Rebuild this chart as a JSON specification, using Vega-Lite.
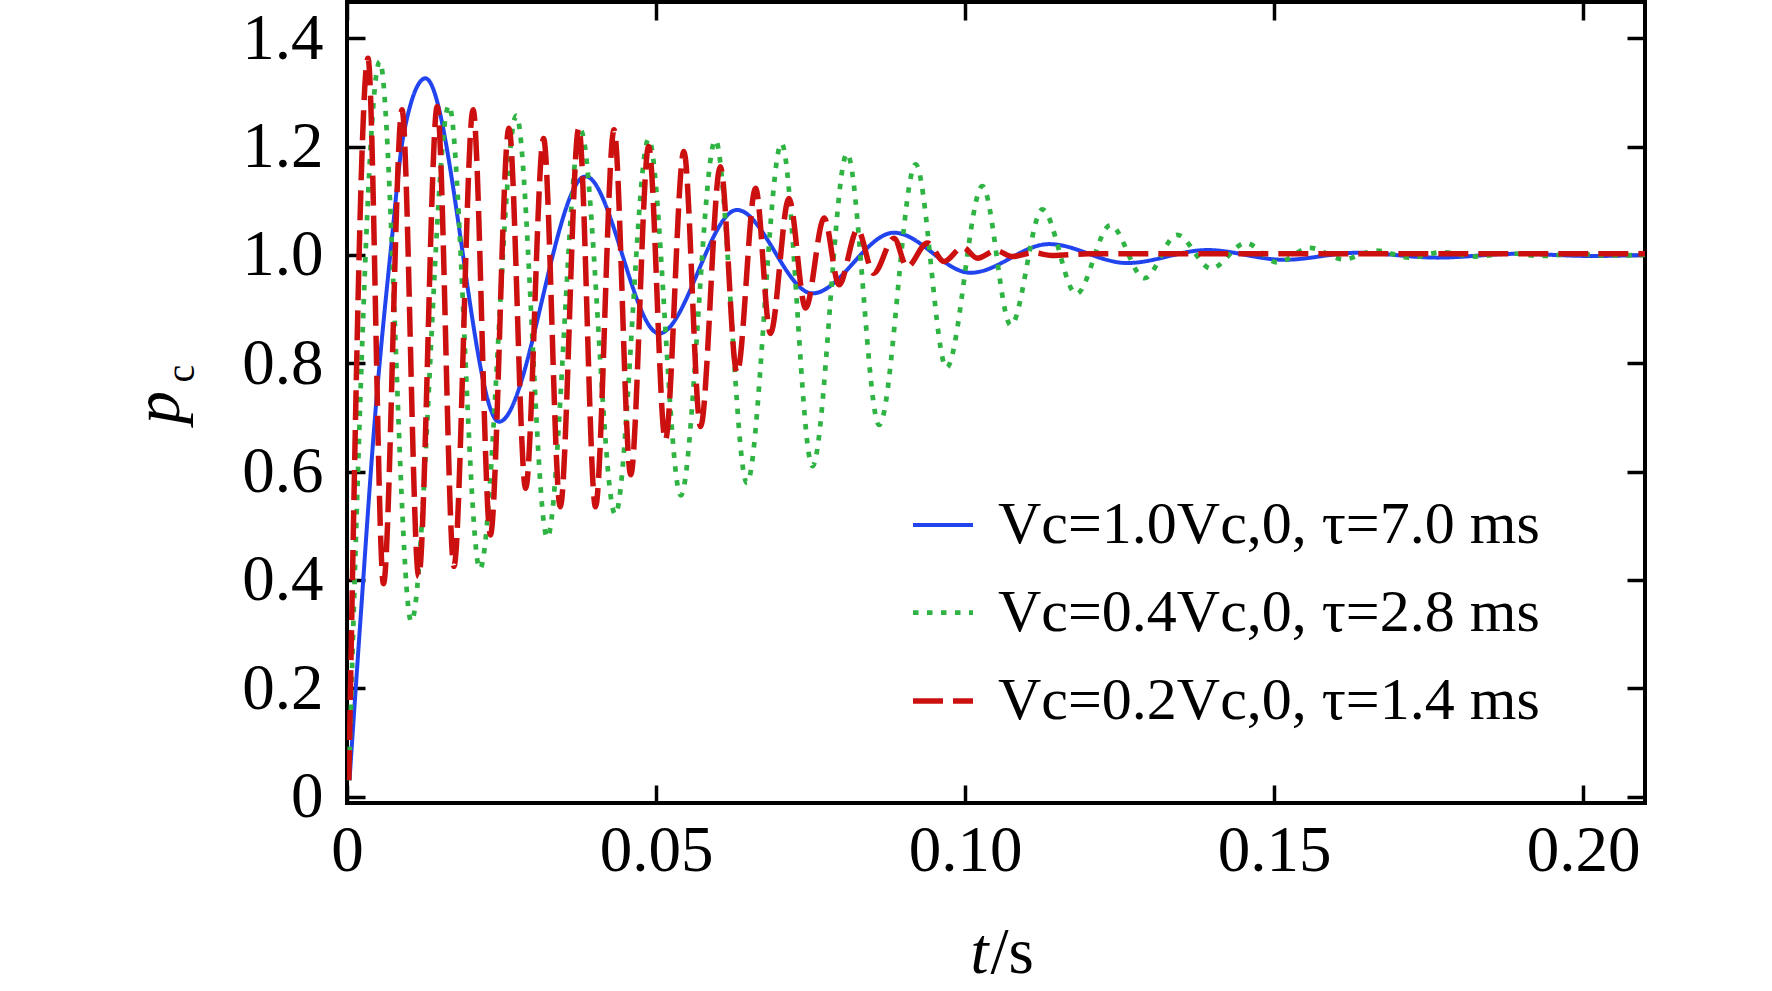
{
  "$schema": "https://vega.github.io/schema/vega-lite/v6.json",
  "width": 1298,
  "height": 801,
  "autosize": {"type": "none"},
  "padding": {"left": 347, "top": 2, "right": 127, "bottom": 188},
  "background": "white",
  "config": {
    "view": {"stroke": "black", "strokeWidth": 4},
    "axis": {
      "grid": false,
      "domain": false,
      "tickSize": -18,
      "tickWidth": 3.5,
      "tickColor": "black",
      "labelFlush": false,
      "labelFont": "Liberation Serif",
      "labelFontSize": 65,
      "labelColor": "black",
      "titleFont": "Liberation Serif",
      "titleColor": "black",
      "titleFontWeight": "normal"
    }
  },
  "data": {
    "values": [
      {"series": "Vc=1.0Vc,0, τ=7.0 ms", "t": 0.0004, "p": 0.03},
      {"series": "Vc=1.0Vc,0, τ=7.0 ms", "t": 0.0022, "p": 0.33},
      {"series": "Vc=1.0Vc,0, τ=7.0 ms", "t": 0.0046, "p": 0.71},
      {"series": "Vc=1.0Vc,0, τ=7.0 ms", "t": 0.007, "p": 1.0},
      {"series": "Vc=1.0Vc,0, τ=7.0 ms", "t": 0.0092, "p": 1.225},
      {"series": "Vc=1.0Vc,0, τ=7.0 ms", "t": 0.0127, "p": 1.326},
      {"series": "Vc=1.0Vc,0, τ=7.0 ms", "t": 0.0246, "p": 0.692},
      {"series": "Vc=1.0Vc,0, τ=7.0 ms", "t": 0.0386, "p": 1.145},
      {"series": "Vc=1.0Vc,0, τ=7.0 ms", "t": 0.0505, "p": 0.855},
      {"series": "Vc=1.0Vc,0, τ=7.0 ms", "t": 0.0631, "p": 1.083},
      {"series": "Vc=1.0Vc,0, τ=7.0 ms", "t": 0.0753, "p": 0.929},
      {"series": "Vc=1.0Vc,0, τ=7.0 ms", "t": 0.0885, "p": 1.041},
      {"series": "Vc=1.0Vc,0, τ=7.0 ms", "t": 0.1009, "p": 0.967},
      {"series": "Vc=1.0Vc,0, τ=7.0 ms", "t": 0.1136, "p": 1.02},
      {"series": "Vc=1.0Vc,0, τ=7.0 ms", "t": 0.1262, "p": 0.985},
      {"series": "Vc=1.0Vc,0, τ=7.0 ms", "t": 0.1392, "p": 1.009},
      {"series": "Vc=1.0Vc,0, τ=7.0 ms", "t": 0.1516, "p": 0.991},
      {"series": "Vc=1.0Vc,0, τ=7.0 ms", "t": 0.1635, "p": 1.004},
      {"series": "Vc=1.0Vc,0, τ=7.0 ms", "t": 0.1764, "p": 0.995},
      {"series": "Vc=1.0Vc,0, τ=7.0 ms", "t": 0.189, "p": 1.002},
      {"series": "Vc=1.0Vc,0, τ=7.0 ms", "t": 0.2015, "p": 0.998},
      {"series": "Vc=1.0Vc,0, τ=7.0 ms", "t": 0.21, "p": 1.0},

      {"series": "Vc=0.4Vc,0, τ=2.8 ms", "t": 0.0003, "p": 0.03},
      {"series": "Vc=0.4Vc,0, τ=2.8 ms", "t": 0.0053, "p": 1.357},
      {"series": "Vc=0.4Vc,0, τ=2.8 ms", "t": 0.0104, "p": 0.323},
      {"series": "Vc=0.4Vc,0, τ=2.8 ms", "t": 0.0165, "p": 1.276},
      {"series": "Vc=0.4Vc,0, τ=2.8 ms", "t": 0.0215, "p": 0.42},
      {"series": "Vc=0.4Vc,0, τ=2.8 ms", "t": 0.0274, "p": 1.257},
      {"series": "Vc=0.4Vc,0, τ=2.8 ms", "t": 0.0324, "p": 0.478},
      {"series": "Vc=0.4Vc,0, τ=2.8 ms", "t": 0.0378, "p": 1.23},
      {"series": "Vc=0.4Vc,0, τ=2.8 ms", "t": 0.0434, "p": 0.521},
      {"series": "Vc=0.4Vc,0, τ=2.8 ms", "t": 0.0488, "p": 1.214},
      {"series": "Vc=0.4Vc,0, τ=2.8 ms", "t": 0.054, "p": 0.556},
      {"series": "Vc=0.4Vc,0, τ=2.8 ms", "t": 0.0596, "p": 1.212},
      {"series": "Vc=0.4Vc,0, τ=2.8 ms", "t": 0.0647, "p": 0.579},
      {"series": "Vc=0.4Vc,0, τ=2.8 ms", "t": 0.0703, "p": 1.206},
      {"series": "Vc=0.4Vc,0, τ=2.8 ms", "t": 0.0753, "p": 0.61},
      {"series": "Vc=0.4Vc,0, τ=2.8 ms", "t": 0.0809, "p": 1.187},
      {"series": "Vc=0.4Vc,0, τ=2.8 ms", "t": 0.0861, "p": 0.686},
      {"series": "Vc=0.4Vc,0, τ=2.8 ms", "t": 0.092, "p": 1.167},
      {"series": "Vc=0.4Vc,0, τ=2.8 ms", "t": 0.097, "p": 0.792},
      {"series": "Vc=0.4Vc,0, τ=2.8 ms", "t": 0.1028, "p": 1.127},
      {"series": "Vc=0.4Vc,0, τ=2.8 ms", "t": 0.1074, "p": 0.87},
      {"series": "Vc=0.4Vc,0, τ=2.8 ms", "t": 0.1125, "p": 1.084},
      {"series": "Vc=0.4Vc,0, τ=2.8 ms", "t": 0.118, "p": 0.928},
      {"series": "Vc=0.4Vc,0, τ=2.8 ms", "t": 0.1235, "p": 1.055},
      {"series": "Vc=0.4Vc,0, τ=2.8 ms", "t": 0.129, "p": 0.957},
      {"series": "Vc=0.4Vc,0, τ=2.8 ms", "t": 0.1343, "p": 1.037},
      {"series": "Vc=0.4Vc,0, τ=2.8 ms", "t": 0.1398, "p": 0.975},
      {"series": "Vc=0.4Vc,0, τ=2.8 ms", "t": 0.1454, "p": 1.022},
      {"series": "Vc=0.4Vc,0, τ=2.8 ms", "t": 0.1505, "p": 0.986},
      {"series": "Vc=0.4Vc,0, τ=2.8 ms", "t": 0.1558, "p": 1.013},
      {"series": "Vc=0.4Vc,0, τ=2.8 ms", "t": 0.1612, "p": 0.992},
      {"series": "Vc=0.4Vc,0, τ=2.8 ms", "t": 0.1665, "p": 1.008},
      {"series": "Vc=0.4Vc,0, τ=2.8 ms", "t": 0.1719, "p": 0.995},
      {"series": "Vc=0.4Vc,0, τ=2.8 ms", "t": 0.1772, "p": 1.005},
      {"series": "Vc=0.4Vc,0, τ=2.8 ms", "t": 0.1826, "p": 0.997},
      {"series": "Vc=0.4Vc,0, τ=2.8 ms", "t": 0.188, "p": 1.003},
      {"series": "Vc=0.4Vc,0, τ=2.8 ms", "t": 0.1933, "p": 0.998},
      {"series": "Vc=0.4Vc,0, τ=2.8 ms", "t": 0.1987, "p": 1.002},
      {"series": "Vc=0.4Vc,0, τ=2.8 ms", "t": 0.204, "p": 0.999},
      {"series": "Vc=0.4Vc,0, τ=2.8 ms", "t": 0.21, "p": 1.0},

      {"series": "Vc=0.2Vc,0, τ=1.4 ms", "t": 0.0003, "p": 0.03},
      {"series": "Vc=0.2Vc,0, τ=1.4 ms", "t": 0.0034, "p": 1.363},
      {"series": "Vc=0.2Vc,0, τ=1.4 ms", "t": 0.0059, "p": 0.393},
      {"series": "Vc=0.2Vc,0, τ=1.4 ms", "t": 0.0089, "p": 1.268},
      {"series": "Vc=0.2Vc,0, τ=1.4 ms", "t": 0.0116, "p": 0.406},
      {"series": "Vc=0.2Vc,0, τ=1.4 ms", "t": 0.0146, "p": 1.274},
      {"series": "Vc=0.2Vc,0, τ=1.4 ms", "t": 0.0173, "p": 0.425},
      {"series": "Vc=0.2Vc,0, τ=1.4 ms", "t": 0.0204, "p": 1.268},
      {"series": "Vc=0.2Vc,0, τ=1.4 ms", "t": 0.0232, "p": 0.483},
      {"series": "Vc=0.2Vc,0, τ=1.4 ms", "t": 0.0262, "p": 1.234},
      {"series": "Vc=0.2Vc,0, τ=1.4 ms", "t": 0.0289, "p": 0.569},
      {"series": "Vc=0.2Vc,0, τ=1.4 ms", "t": 0.0318, "p": 1.215},
      {"series": "Vc=0.2Vc,0, τ=1.4 ms", "t": 0.0345, "p": 0.535},
      {"series": "Vc=0.2Vc,0, τ=1.4 ms", "t": 0.0375, "p": 1.234},
      {"series": "Vc=0.2Vc,0, τ=1.4 ms", "t": 0.0402, "p": 0.535},
      {"series": "Vc=0.2Vc,0, τ=1.4 ms", "t": 0.0432, "p": 1.231},
      {"series": "Vc=0.2Vc,0, τ=1.4 ms", "t": 0.0459, "p": 0.594},
      {"series": "Vc=0.2Vc,0, τ=1.4 ms", "t": 0.0488, "p": 1.2},
      {"series": "Vc=0.2Vc,0, τ=1.4 ms", "t": 0.0515, "p": 0.658},
      {"series": "Vc=0.2Vc,0, τ=1.4 ms", "t": 0.0545, "p": 1.191},
      {"series": "Vc=0.2Vc,0, τ=1.4 ms", "t": 0.0572, "p": 0.683},
      {"series": "Vc=0.2Vc,0, τ=1.4 ms", "t": 0.0604, "p": 1.163},
      {"series": "Vc=0.2Vc,0, τ=1.4 ms", "t": 0.0631, "p": 0.782},
      {"series": "Vc=0.2Vc,0, τ=1.4 ms", "t": 0.0661, "p": 1.123},
      {"series": "Vc=0.2Vc,0, τ=1.4 ms", "t": 0.0685, "p": 0.855},
      {"series": "Vc=0.2Vc,0, τ=1.4 ms", "t": 0.0715, "p": 1.104},
      {"series": "Vc=0.2Vc,0, τ=1.4 ms", "t": 0.0742, "p": 0.902},
      {"series": "Vc=0.2Vc,0, τ=1.4 ms", "t": 0.0772, "p": 1.068},
      {"series": "Vc=0.2Vc,0, τ=1.4 ms", "t": 0.0796, "p": 0.945},
      {"series": "Vc=0.2Vc,0, τ=1.4 ms", "t": 0.0826, "p": 1.047},
      {"series": "Vc=0.2Vc,0, τ=1.4 ms", "t": 0.0852, "p": 0.966},
      {"series": "Vc=0.2Vc,0, τ=1.4 ms", "t": 0.0885, "p": 1.031},
      {"series": "Vc=0.2Vc,0, τ=1.4 ms", "t": 0.0906, "p": 0.978},
      {"series": "Vc=0.2Vc,0, τ=1.4 ms", "t": 0.0939, "p": 1.022},
      {"series": "Vc=0.2Vc,0, τ=1.4 ms", "t": 0.0966, "p": 0.988},
      {"series": "Vc=0.2Vc,0, τ=1.4 ms", "t": 0.0996, "p": 1.014},
      {"series": "Vc=0.2Vc,0, τ=1.4 ms", "t": 0.102, "p": 0.994},
      {"series": "Vc=0.2Vc,0, τ=1.4 ms", "t": 0.105, "p": 1.008},
      {"series": "Vc=0.2Vc,0, τ=1.4 ms", "t": 0.1077, "p": 0.997},
      {"series": "Vc=0.2Vc,0, τ=1.4 ms", "t": 0.111, "p": 1.004},
      {"series": "Vc=0.2Vc,0, τ=1.4 ms", "t": 0.114, "p": 0.999},
      {"series": "Vc=0.2Vc,0, τ=1.4 ms", "t": 0.12, "p": 1.002},
      {"series": "Vc=0.2Vc,0, τ=1.4 ms", "t": 0.21, "p": 1.002}
    ]
  },
  "layer": [
    {
      "mark": {"type": "line", "interpolate": "monotone", "clip": true, "strokeCap": "butt"},
      "encoding": {
        "x": {
          "field": "t", "type": "quantitative",
          "scale": {"domain": [0, 0.21], "nice": false, "zero": false},
          "axis": {
            "orient": "bottom",
            "values": [0, 0.05, 0.1, 0.15, 0.2],
            "labelExpr": "datum.value === 0 ? '0' : format(datum.value, '.2f')",
            "labelPadding": 34,
            "title": "t",
            "titleFontSize": 65,
            "titleFontStyle": "italic",
            "titleAlign": "center",
            "titleBaseline": "alphabetic",
            "titleX": 632,
            "titleY": 169
          }
        },
        "y": {
          "field": "p", "type": "quantitative",
          "scale": {"domain": [-0.012, 1.467], "nice": false, "zero": false},
          "axis": {
            "orient": "left",
            "values": [0, 0.2, 0.4, 0.6, 0.8, 1.0, 1.2, 1.4],
            "labelExpr": "datum.value === 0 ? '0' : format(datum.value, '.1f')",
            "labelPadding": 42,
            "title": "p",
            "titleFontSize": 66,
            "titleFontStyle": "italic",
            "titleAngle": -90,
            "titleAlign": "center",
            "titleBaseline": "alphabetic",
            "titleX": -169,
            "titleY": 405
          }
        },
        "color": {
          "field": "series", "type": "nominal",
          "scale": {
            "domain": ["Vc=1.0Vc,0, τ=7.0 ms", "Vc=0.4Vc,0, τ=2.8 ms", "Vc=0.2Vc,0, τ=1.4 ms"],
            "range": ["#2244ee", "#2fb443", "#cc1010"]
          },
          "legend": {
            "orient": "none",
            "legendX": 563,
            "legendY": 491,
            "title": null,
            "padding": 0,
            "symbolType": "stroke",
            "symbolSize": 3600,
            "labelFont": "Liberation Serif",
            "labelFontSize": 60,
            "labelColor": "black",
            "labelOffset": 22,
            "labelLimit": 1000,
            "rowPadding": 25
          }
        },
        "strokeDash": {
          "field": "series", "type": "nominal",
          "scale": {
            "domain": ["Vc=1.0Vc,0, τ=7.0 ms", "Vc=0.4Vc,0, τ=2.8 ms", "Vc=0.2Vc,0, τ=1.4 ms"],
            "range": [[1, 0], [5.5, 8.5], [30, 10]]
          }
        },
        "strokeWidth": {
          "field": "series", "type": "nominal",
          "scale": {
            "domain": ["Vc=1.0Vc,0, τ=7.0 ms", "Vc=0.4Vc,0, τ=2.8 ms", "Vc=0.2Vc,0, τ=1.4 ms"],
            "range": [4, 5.5, 4]
          }
        }
      }
    },
    {
      "mark": {"type": "point", "opacity": 0},
      "encoding": {
        "x": {
          "field": "t", "type": "quantitative",
          "axis": {
            "orient": "top",
            "values": [0, 0.05, 0.1, 0.15, 0.2],
            "labels": false,
            "title": "/s",
            "titleFontSize": 65,
            "titleFontStyle": "normal",
            "titleAlign": "left",
            "titleBaseline": "alphabetic",
            "titleX": 643,
            "titleY": 970
          }
        },
        "y": {
          "field": "p", "type": "quantitative",
          "axis": {
            "orient": "right",
            "values": [0, 0.2, 0.4, 0.6, 0.8, 1.0, 1.2, 1.4],
            "labels": false,
            "title": "c",
            "titleFontSize": 40,
            "titleFontStyle": "normal",
            "titleAngle": -90,
            "titleAlign": "center",
            "titleBaseline": "alphabetic",
            "titleX": -1452,
            "titleY": 371
          }
        }
      }
    }
  ],
  "resolve": {"axis": {"x": "independent", "y": "independent"}}
}
